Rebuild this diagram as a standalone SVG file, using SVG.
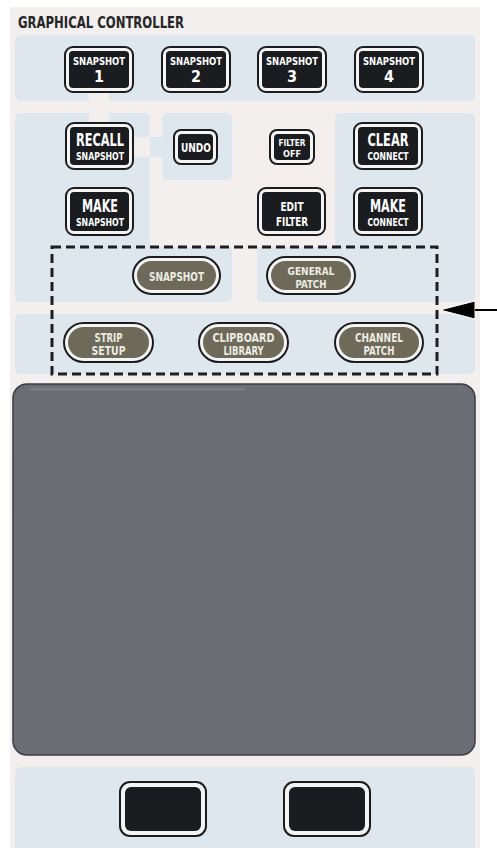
<svg xmlns="http://www.w3.org/2000/svg" width="497" height="848" viewBox="0 0 497 848">
<style>
.bg{fill:#f2efee}
.pnl{fill:#dfe7ee}
.strip{fill:#f2efee}
.bo{fill:#f4f4f4;stroke:#1c1c1e;stroke-width:2}
.bi{fill:#1b1c1f}
.po{fill:#f4f4f4;stroke:#1c1c1e;stroke-width:2}
.pi{fill:#6d6a59}
.t{font-family:"Liberation Sans Narrow","DejaVu Sans Condensed","Liberation Sans",sans-serif;font-weight:bold;fill:#ffffff;text-anchor:middle}
.pt{font-family:"Liberation Sans Narrow","DejaVu Sans Condensed","Liberation Sans",sans-serif;font-weight:bold;fill:#ecebe4;text-anchor:middle}
.title{font-family:"Liberation Sans Narrow","DejaVu Sans Condensed","Liberation Sans",sans-serif;font-weight:bold;fill:#262628}
</style>
<defs>
<marker id="ah" viewBox="0 0 35 20" refX="29" refY="10" markerWidth="35" markerHeight="20" markerUnits="userSpaceOnUse" orient="auto">
<path d="M0,1 L35,10 L0,19 Z" fill="#000" stroke="#fff" stroke-width="1"/>
</marker>
</defs>
<rect x="0" y="0" width="497" height="848" fill="#ffffff"/>
<rect class="bg" x="10" y="7" width="470" height="841"/>
<text class="title" x="18" y="28" font-size="16" textLength="166" lengthAdjust="spacingAndGlyphs">GRAPHICAL CONTROLLER</text>

<g id="panels">
<rect class="pnl" x="15" y="35" width="460" height="66" rx="6"/>
<path class="pnl" d="M21,113 H144 Q150,113 150,119 V247 H232 V296 Q232,302 226,302 H21 Q15,302 15,296 V119 Q15,113 21,113 Z"/>
<rect class="pnl" x="162" y="113" width="70" height="67" rx="6"/>
<rect class="pnl" x="150" y="137" width="14" height="20"/>
<path class="pnl" d="M341,113 H469 Q475,113 475,119 V296 Q475,302 469,302 H263 Q257,302 257,296 V247 H335 V119 Q335,113 341,113 Z"/>
<rect class="pnl" x="15" y="314" width="460" height="60" rx="6"/>
<rect class="pnl" x="15" y="767" width="460" height="95" rx="6"/>
</g>

<g id="connectors">
<rect class="strip" x="89" y="90" width="20" height="35"/>
<rect class="strip" x="131" y="137" width="19" height="20"/>
<rect x="52" y="247" width="385" height="127" fill="none" stroke="#1e1e1e" stroke-width="3" stroke-dasharray="9 5"/>
<line x1="497" y1="310" x2="446" y2="310" stroke="#000" stroke-width="2" marker-end="url(#ah)"/>
</g>

<g id="snapshot1"><rect class="bo" x="65" y="47" width="68" height="45" rx="8"/><rect class="bi" x="69" y="51" width="60" height="37" rx="4"/><text class="t" x="99" y="65" font-size="11" textLength="52" lengthAdjust="spacingAndGlyphs">SNAPSHOT</text><text class="t" x="99" y="82" font-size="16">1</text></g>
<g id="snapshot2"><rect class="bo" x="162" y="47" width="68" height="45" rx="8"/><rect class="bi" x="166" y="51" width="60" height="37" rx="4"/><text class="t" x="196" y="65" font-size="11" textLength="52" lengthAdjust="spacingAndGlyphs">SNAPSHOT</text><text class="t" x="196" y="82" font-size="16">2</text></g>
<g id="snapshot3"><rect class="bo" x="258" y="47" width="68" height="45" rx="8"/><rect class="bi" x="262" y="51" width="60" height="37" rx="4"/><text class="t" x="292" y="65" font-size="11" textLength="52" lengthAdjust="spacingAndGlyphs">SNAPSHOT</text><text class="t" x="292" y="82" font-size="16">3</text></g>
<g id="snapshot4"><rect class="bo" x="355" y="47" width="68" height="45" rx="8"/><rect class="bi" x="359" y="51" width="60" height="37" rx="4"/><text class="t" x="389" y="65" font-size="11" textLength="52" lengthAdjust="spacingAndGlyphs">SNAPSHOT</text><text class="t" x="389" y="82" font-size="16">4</text></g>

<g id="recall"><rect class="bo" x="66" y="123" width="67" height="46" rx="8"/><rect class="bi" x="70" y="127" width="59" height="38" rx="4"/><text class="t" x="100" y="146" font-size="17" textLength="48" lengthAdjust="spacingAndGlyphs">RECALL</text><text class="t" x="100" y="160" font-size="10.5" textLength="48" lengthAdjust="spacingAndGlyphs">SNAPSHOT</text></g>
<g id="makesnap"><rect class="bo" x="66" y="188" width="67" height="47" rx="8"/><rect class="bi" x="70" y="192" width="59" height="39" rx="4"/><text class="t" x="100" y="212" font-size="17" textLength="36" lengthAdjust="spacingAndGlyphs">MAKE</text><text class="t" x="100" y="226" font-size="10.5" textLength="48" lengthAdjust="spacingAndGlyphs">SNAPSHOT</text></g>
<g id="undo"><rect class="bo" x="174" y="130" width="43" height="34" rx="7"/><rect class="bi" x="178" y="134" width="35" height="26" rx="4"/><text class="t" x="196" y="152" font-size="12" textLength="30" lengthAdjust="spacingAndGlyphs">UNDO</text></g>
<g id="filteroff"><rect class="bo" x="270" y="130" width="44" height="34" rx="7"/><rect class="bi" x="274" y="134" width="36" height="26" rx="4"/><text class="t" x="292" y="146" font-size="9" textLength="27" lengthAdjust="spacingAndGlyphs">FILTER</text><text class="t" x="292" y="156.5" font-size="9">OFF</text></g>
<g id="clear"><rect class="bo" x="354" y="123" width="68" height="46" rx="8"/><rect class="bi" x="358" y="127" width="60" height="38" rx="4"/><text class="t" x="388" y="146" font-size="17" textLength="41" lengthAdjust="spacingAndGlyphs">CLEAR</text><text class="t" x="388" y="160" font-size="10.5" textLength="41" lengthAdjust="spacingAndGlyphs">CONNECT</text></g>
<g id="makeconnect"><rect class="bo" x="354" y="188" width="68" height="47" rx="8"/><rect class="bi" x="358" y="192" width="60" height="39" rx="4"/><text class="t" x="388" y="212" font-size="17" textLength="36" lengthAdjust="spacingAndGlyphs">MAKE</text><text class="t" x="388" y="226" font-size="10.5" textLength="41" lengthAdjust="spacingAndGlyphs">CONNECT</text></g>
<g id="editfilter"><rect class="bo" x="258" y="188" width="67" height="47" rx="8"/><rect class="bi" x="262" y="192" width="59" height="39" rx="4"/><text class="t" x="292" y="211" font-size="12.5" textLength="23" lengthAdjust="spacingAndGlyphs">EDIT</text><text class="t" x="292" y="225.5" font-size="12.5" textLength="32" lengthAdjust="spacingAndGlyphs">FILTER</text></g>

<g id="p-snapshot"><rect class="po" x="133" y="257" width="87" height="37" rx="18.5"/><rect class="pi" x="137" y="261" width="79" height="29" rx="14.5"/><text class="pt" x="176.5" y="281" font-size="13" textLength="55" lengthAdjust="spacingAndGlyphs">SNAPSHOT</text></g>
<g id="p-general"><rect class="po" x="267" y="257" width="88" height="37" rx="18.5"/><rect class="pi" x="271" y="261" width="80" height="29" rx="14.5"/><text class="pt" x="311" y="274.5" font-size="11" textLength="47" lengthAdjust="spacingAndGlyphs">GENERAL</text><text class="pt" x="311" y="287.5" font-size="11" textLength="31" lengthAdjust="spacingAndGlyphs">PATCH</text></g>
<g id="p-strip"><rect class="po" x="64" y="323" width="89" height="39" rx="19.5"/><rect class="pi" x="68" y="327" width="81" height="31" rx="15.5"/><text class="pt" x="108.5" y="342" font-size="12" textLength="28" lengthAdjust="spacingAndGlyphs">STRIP</text><text class="pt" x="108.5" y="355" font-size="12" textLength="34" lengthAdjust="spacingAndGlyphs">SETUP</text></g>
<g id="p-clipboard"><rect class="po" x="199" y="323" width="89" height="39" rx="19.5"/><rect class="pi" x="203" y="327" width="81" height="31" rx="15.5"/><text class="pt" x="243.5" y="342" font-size="12" textLength="62" lengthAdjust="spacingAndGlyphs">CLIPBOARD</text><text class="pt" x="243.5" y="355" font-size="12" textLength="40" lengthAdjust="spacingAndGlyphs">LIBRARY</text></g>
<g id="p-channel"><rect class="po" x="335" y="323" width="88" height="39" rx="19.5"/><rect class="pi" x="339" y="327" width="80" height="31" rx="15.5"/><text class="pt" x="379" y="342" font-size="12" textLength="48" lengthAdjust="spacingAndGlyphs">CHANNEL</text><text class="pt" x="379" y="355" font-size="12" textLength="31" lengthAdjust="spacingAndGlyphs">PATCH</text></g>

<g id="display"><rect x="13" y="384" width="462" height="371" rx="14" fill="#6b6d75" stroke="#3c3d42" stroke-width="1.5"/><line x1="30" y1="389" x2="245" y2="389" stroke="#7a7c84" stroke-width="3"/></g>

<g id="btn-left"><rect class="bo" x="120" y="782" width="86" height="54" rx="10"/><rect class="bi" x="125" y="787" width="76" height="44" rx="6"/></g>
<g id="btn-right"><rect class="bo" x="284" y="782" width="86" height="54" rx="10"/><rect class="bi" x="289" y="787" width="76" height="44" rx="6"/></g>
</svg>
